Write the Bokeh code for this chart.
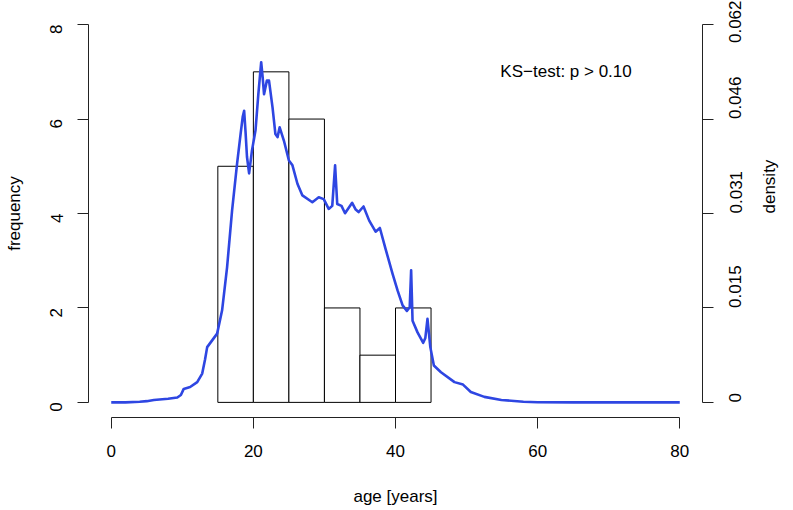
import math
from bokeh.plotting import figure
from bokeh.models import (Range1d, LinearAxis, FixedTicker, CustomJSTickFormatter)
from bokeh.core.properties import value
from bokeh.embed import file_html
from bokeh.resources import INLINE

# ---- data ----
bin_left = [15, 20, 25, 30, 35, 40]
bin_right = [20, 25, 30, 35, 40, 45]
counts = [5, 7, 6, 2, 1, 2]

dens_x = [0, 2, 4, 5, 6, 8, 9.3, 9.8, 10.2, 11.1, 12.1, 12.8, 13.2, 13.5, 14.2, 14.9,
          15.6, 16.3, 17.0, 17.7, 18.2, 18.5, 18.7, 18.9, 19.1, 19.4, 19.8, 20.3, 20.7,
          21.1, 21.3, 21.5, 21.9, 22.2, 22.7, 23.1, 23.4, 23.7, 24.3, 25.0, 25.5, 26.2,
          26.9, 28.3, 29.2, 29.9, 30.6, 31.1, 31.5, 31.8, 32.4, 32.9, 33.9, 34.4, 34.8,
          35.5, 36.3, 37.2, 37.8, 38.6, 39.6, 40.3, 41.0, 41.6, 42.0, 42.2, 42.4, 43.1,
          43.9, 44.2, 44.5, 44.9, 45.4, 46.4, 48.3, 49.5, 50.6, 52.5, 54.9, 58, 60, 65, 80]
dens_y = [0, 0, 0.0001, 0.0002, 0.0004, 0.0006, 0.0008, 0.0012, 0.0022, 0.0025, 0.0033,
          0.0047, 0.0070, 0.0090, 0.0101, 0.0112, 0.0150, 0.0220, 0.0312, 0.0388, 0.0437,
          0.0465, 0.0475, 0.0440, 0.0400, 0.0373, 0.0410, 0.0443, 0.0502, 0.0554, 0.0530,
          0.0502, 0.0524, 0.0524, 0.0480, 0.0437, 0.0432, 0.0448, 0.0426, 0.0394, 0.0386,
          0.0356, 0.0337, 0.0326, 0.0334, 0.0331, 0.0315, 0.0320, 0.0386, 0.0323, 0.0320,
          0.0308, 0.0325, 0.0314, 0.0310, 0.0319, 0.0296, 0.0278, 0.0284, 0.0250, 0.0209,
          0.0182, 0.0158, 0.0149, 0.0155, 0.0215, 0.0133, 0.0114, 0.0097, 0.0105, 0.0136,
          0.0090, 0.0060, 0.0049, 0.0033, 0.0029, 0.0017, 0.0009, 0.0004, 0.0001, 0.00003,
          0, 0]

x_ticks = [0, 20, 40, 60, 80]
freq_ticks = [0, 2, 4, 6, 8]
dens_ticks = [0, 0.01538, 0.03076, 0.04614, 0.06152]
annotation = "KS\u2212test: p > 0.10"
x_title = "age [years]"
freq_title = "frequency"
density_title = "density"

FONT = "Liberation Sans"
FS = "17px"

p = figure(width=793, height=510, output_backend="svg", toolbar_location=None,
           x_range=Range1d(-3.2, 83.2), y_range=Range1d(-0.32, 8.32),
           min_border_left=88, min_border_right=91, min_border_top=9, min_border_bottom=93,
           x_axis_location=None, y_axis_location=None)
p.outline_line_color = None
p.xgrid.visible = False
p.ygrid.visible = False
p.background_fill_color = "white"
p.border_fill_color = "white"

dmax = dens_ticks[-1]
p.extra_y_ranges = {"density": Range1d(-0.32 * dmax / 8, 8.32 * dmax / 8)}

def style_axis(ax):
    ax.axis_line_color = "#222222"
    ax.axis_line_width = 1
    ax.major_tick_line_color = "#222222"
    ax.major_tick_out = 11
    ax.major_tick_in = 0
    ax.minor_tick_out = 0
    ax.minor_tick_in = 0
    ax.major_label_text_font = FONT
    ax.major_label_text_font_size = FS
    ax.major_label_text_color = "black"
    ax.axis_label_text_font = FONT
    ax.axis_label_text_font_size = FS
    ax.axis_label_text_font_style = "normal"
    ax.axis_label_text_color = "black"

xa = LinearAxis(ticker=FixedTicker(ticks=x_ticks), axis_label=x_title)
style_axis(xa)
xa.bounds = (x_ticks[0], x_ticks[-1])
xa.major_label_standoff = 16
xa.axis_label_standoff = 27
p.add_layout(xa, "below")

ya = LinearAxis(ticker=FixedTicker(ticks=freq_ticks), axis_label=freq_title)
style_axis(ya)
ya.bounds = (freq_ticks[0], freq_ticks[-1])
ya.major_label_orientation = math.pi / 2
ya.major_label_standoff = 21
ya.axis_label_standoff = 18
p.add_layout(ya, "left")

ra = LinearAxis(y_range_name="density", ticker=FixedTicker(ticks=dens_ticks),
                axis_label=density_title,
                formatter=CustomJSTickFormatter(code="return tick == 0 ? '0' : tick.toFixed(3);"))
style_axis(ra)
ra.bounds = (dens_ticks[0], dens_ticks[-1])
ra.major_label_orientation = math.pi / 2
ra.axis_label_orientation = math.pi / 2
ra.major_label_standoff = 22
ra.axis_label_standoff = 19
p.add_layout(ra, "right")

p.quad(left=bin_left, right=bin_right, bottom=0, top=counts,
       fill_color="white", line_color="black", line_width=1)

p.line(dens_x, dens_y, y_range_name="density", line_color="#2E46E2", line_width=2.6,
       line_join="round")

p.text(x=[64], y=[7], text=[annotation], text_font=value(FONT), text_font_size=FS,
       text_align="center", text_baseline="middle", text_color="black")

open("out.html", "w").write(file_html(p, INLINE))
